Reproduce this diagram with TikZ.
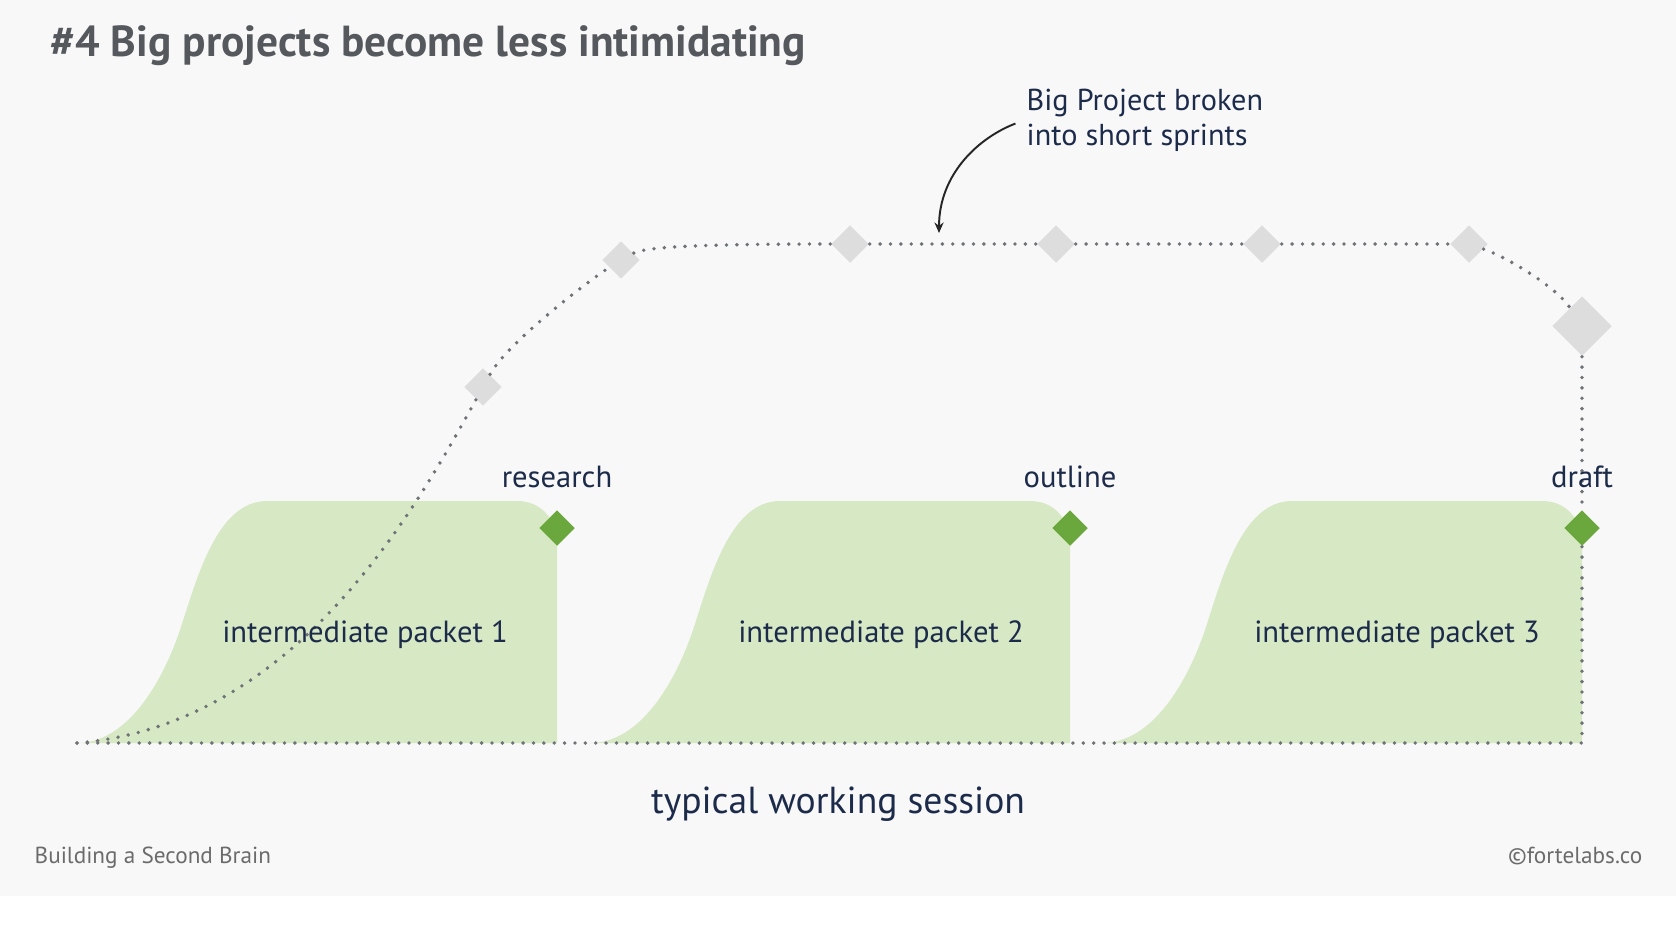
\documentclass[tikz,border=0pt]{standalone}
\usepackage{fontspec}
\setmainfont{PT Sans}
\usetikzlibrary{shapes.geometric, positioning, arrows.meta}

\definecolor{bgGray}{HTML}{F8F8F8}
\definecolor{packetGreen}{HTML}{D6E8C4}
\definecolor{markGreen}{HTML}{6AA83E}
\definecolor{sprintGray}{HTML}{DDDDDD}
\definecolor{dotGray}{HTML}{6F7377}
\definecolor{inkNavy}{HTML}{1D2B4A}
\definecolor{titleGray}{HTML}{55585C}
\definecolor{footGray}{HTML}{6B6B6B}

\tikzset{
  milestone/.style={diamond, fill=markGreen, inner sep=0pt, minimum size=0.36cm},
  sprint/.style={diamond, fill=sprintGray, inner sep=0pt, minimum size=0.38cm},
  dotline/.style={dotGray, line width=1.1pt, line cap=round, dash pattern=on 0pt off 2.95pt},
  packetlabel/.style={text=inkNavy, font=\fontsize{8.7}{10}\selectfont},
  steplabel/.style={text=inkNavy, inner sep=0pt, font=\fontsize{8.7}{10}\selectfont},
  footlabel/.style={inner sep=0pt, text=footGray, font=\fontsize{6.6}{8}\selectfont},
}

\begin{document}
\begin{tikzpicture}[x=0.01cm, y=-0.01cm]
    % Canvas
    \useasboundingbox (0,0) rectangle (1676,932);
    \fill[white] (0,0) rectangle (1676,932);
    \fill[bgGray] (0,0) rectangle (1676,896);

    % Title
    \node[anchor=base west, inner sep=0pt, text=titleGray, font=\fontsize{12.35}{14}\selectfont\bfseries] (title) at (50,56) {\#4 Big projects become less intimidating};

    % Green packets, one per working session
    \fill[packetGreen] (77,743) .. controls (127,743) and (162,683) .. (180,630) .. controls (197,578) and (217,501) .. (267,501) -- (517,501) .. controls (542,501) and (557,520) .. (557,545) -- (557,743) -- cycle;
    \fill[packetGreen] (590,743) .. controls (640,743) and (675,683) .. (693,630) .. controls (710,578) and (730,501) .. (780,501) -- (1030,501) .. controls (1055,501) and (1070,520) .. (1070,545) -- (1070,743) -- cycle;
    \fill[packetGreen] (1102,743) .. controls (1152,743) and (1187,683) .. (1205,630) .. controls (1222,578) and (1242,501) .. (1292,501) -- (1542,501) .. controls (1567,501) and (1582,520) .. (1582,545) -- (1582,743) -- cycle;

    % Milestones at the end of each packet
    \node[milestone] (d1) at (557,528) {};
    \node[milestone] (d2) at (1070,528) {};
    \node[milestone] (d3) at (1582,528) {};

    % Sprints of the big project
    \node[sprint] (g1) at (483,387) {};
    \node[sprint] (g2) at (621,260) {};
    \node[sprint] (g3) at (850,244) {};
    \node[sprint] (g4) at (1056,244) {};
    \node[sprint] (g5) at (1262,244) {};
    \node[sprint] (g6) at (1469,244) {};
    \node[sprint, minimum size=0.6cm] (g7) at (1582,326) {};

    \coordinate (baseL) at (77,743);
    \coordinate (baseR) at (1582,743);

    % Dotted time line and project curve
    \draw[dotline] (baseL) -- (baseR);
    \draw[dotline] (baseL) .. controls (300,725) and (420,500) .. (g1);
    \draw[dotline] (g1) .. controls (508,342) and (591,279) .. (g2);
    \draw[dotline] (g2) .. controls (645,247) and (700,244) .. (g3);
    \draw[dotline] (g3) -- (g4);
    \draw[dotline] (g4) -- (g5);
    \draw[dotline] (g5) -- (g6);
    \draw[dotline] (g6) .. controls (1509,258) and (1557,288) .. (g7);
    \draw[dotline] (g7) -- (d3);
    \draw[dotline] (d3) -- (baseR);

    % Milestone labels
    \node[steplabel, above=6pt of d1] (research) {research};
    \node[steplabel, above=6pt of d2] (outline) {outline};
    \node[steplabel, above=6pt of d3] (draft) {draft};

    % Packet labels
    \node[packetlabel] (p1) at (365,635) {intermediate packet 1};
    \node[packetlabel] (p2) at (881,635) {intermediate packet 2};
    \node[packetlabel] (p3) at (1397,635) {intermediate packet 3};

    \node[text=inkNavy, font=\fontsize{10.7}{13}\selectfont] (session) at (838,804) {typical working session};

    % Annotation
    \node[anchor=north west, align=left, inner sep=0pt, text=inkNavy, font=\fontsize{8.6}{10}\selectfont] (note) at (1026,88) {Big Project broken\\into short sprints};
    \coordinate (sprintmark) at (939,233);
    \draw[-{Stealth[length=3pt,width=2.6pt]}, line width=0.55pt, black!85] ([xshift=-3pt,yshift=-1pt]note.west) .. controls (980,137) and (939,173) .. (sprintmark);

    % Footer
    \node[footlabel, anchor=base west] (brand) at (34,863) {Building a Second Brain};
    \node[footlabel, anchor=base east] (credit) at (1643,863) {©fortelabs.co};
\end{tikzpicture}
\end{document}
